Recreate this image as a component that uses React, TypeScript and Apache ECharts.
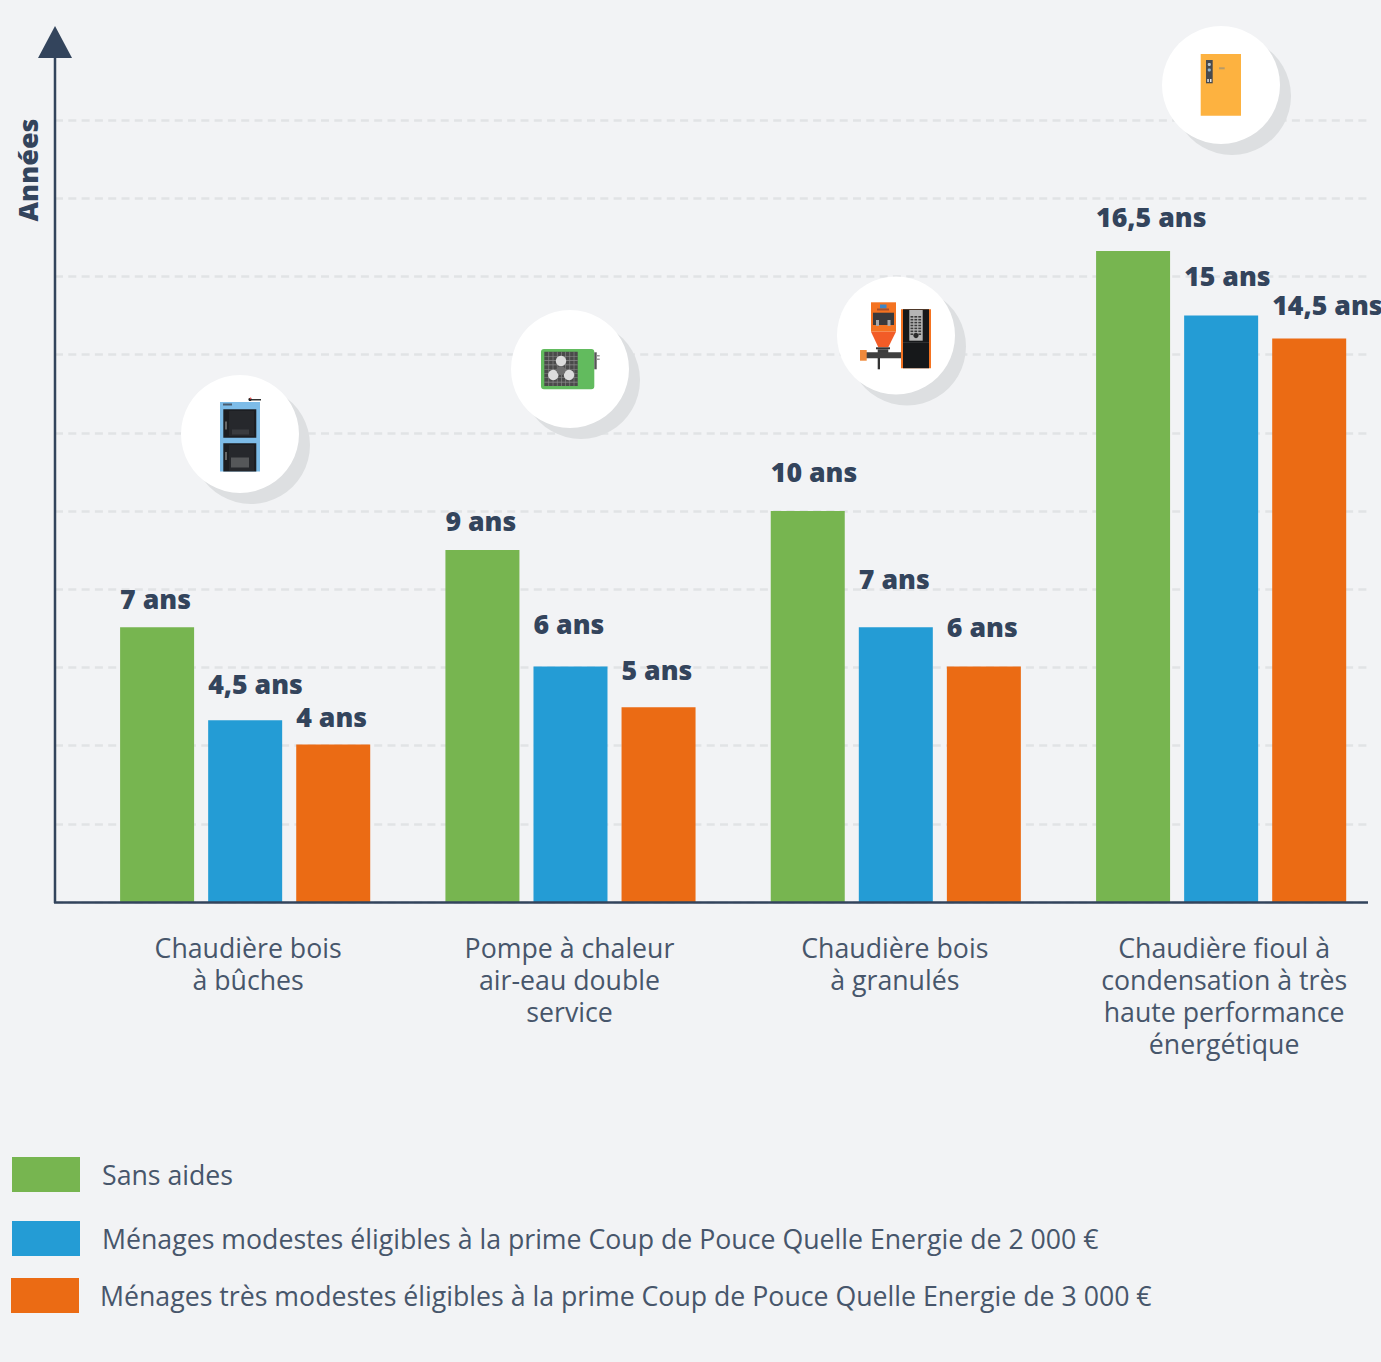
import React, { useEffect, useRef } from "react";
import * as echarts from "echarts";

const categories = [
  "Chaudière bois\nà bûches",
  "Pompe à chaleur\nair-eau double\nservice",
  "Chaudière bois\nà granulés",
  "Chaudière fioul à\ncondensation à très\nhaute performance\nénergétique",
];
const seriesNames = [
  "Sans aides",
  "Ménages modestes éligibles à la prime Coup de Pouce Quelle Energie de 2 000 €",
  "Ménages très modestes éligibles à la prime Coup de Pouce Quelle Energie de 3 000 €",
];
const sansAides = [7.03, 9, 10, 16.65];
const modestes = [4.65, 6.02, 7.03, 15];
const tresModestes = [4.03, 4.98, 6.02, 14.41];
const sansAidesLabels = ["7 ans", "9 ans", "10 ans", "16,5 ans"];
const modestesLabels = ["4,5 ans", "6 ans", "7 ans", "15 ans"];
const tresModestesLabels = ["4 ans", "5 ans", "6 ans", "14,5 ans"];
const sansAidesGaps = [29, 30, 40, 34];
const modestesGaps = [37, 43, 49, 40];
const tresModestesGaps = [28, 38, 40, 34];
const categoryNudges = [
  [0, 0, 0, 6],
  [0, 2, 0, 0],
  [0, 2, 0, 0],
  [0, 0, 0, 6],
];
const colors = ["#77b550", "#249cd5", "#eb6b14"];
const BG = "#f2f3f5";
const NAVY = "#33445c";
const TEXT = "#47566b";
const FONT = "'Open Sans', sans-serif";

function buildGraphics() {
  const out: any[] = [];
  let z = 10;
  const rect = (x: number, y: number, w: number, h: number, fill: string, r = 0) =>
    out.push({ type: "rect", z: z++, silent: true, shape: { x, y, width: w, height: h, r }, style: { fill } });
  const circle = (cx: number, cy: number, r: number, fill: string) =>
    out.push({ type: "circle", z: z++, silent: true, shape: { cx, cy, r }, style: { fill } });
  const poly = (points: number[][], fill: string) =>
    out.push({ type: "polygon", z: z++, silent: true, shape: { points }, style: { fill } });

  // Axis lines + arrow
  out.push({ type: "line", z: z++, silent: true, shape: { x1: 55, y1: 57, x2: 55, y2: 903 }, style: { stroke: NAVY, lineWidth: 2.5 } });
  out.push({ type: "line", z: z++, silent: true, shape: { x1: 54, y1: 902.5, x2: 1368, y2: 902.5 }, style: { stroke: NAVY, lineWidth: 2.5 } });
  poly([[55, 26], [72, 58], [38, 58]], NAVY);
  out.push({
    type: "text", z: z++, silent: true, x: 27, y: 170, rotation: Math.PI / 2,
    style: { text: "Années", fill: NAVY, font: `800 27px ${FONT}`, align: "center", verticalAlign: "middle" },
  });

  // Medallions
  for (const [cx, cy] of [[240, 434], [570, 369], [896, 335.5], [1221, 85]]) {
    circle(cx + 11, cy + 11, 59, "#dddfe1");
    circle(cx, cy, 59, "#ffffff");
  }

  // Log boiler
  rect(220, 402, 40, 69.5, "#7dbce8");
  rect(223.3, 409.3, 33, 28.4, "#1c1e22");
  rect(223.3, 443.3, 33, 28.2, "#1c1e22");
  rect(229, 411, 25, 25, "#26282c");
  rect(229, 445, 25, 26, "#26282c");
  rect(223, 403.5, 9, 2, "#4b5d70");
  rect(225, 421.5, 2, 8, "#666");
  rect(225, 452, 2, 8, "#666");
  rect(232, 429.5, 17, 5, "#3a3c40");
  rect(231, 457.5, 18, 10, "#555759");
  rect(249, 399, 12, 1.5, "#333");
  circle(250, 399.5, 1.6, "#222");
  circle(250.5, 398.3, 0.8, "#f05050");

  // Heat pump
  rect(541, 349, 53.3, 40.3, "#62bb5e", 3);
  rect(544.3, 351.7, 33.4, 34.3, "#4a4a4a");
  for (let i = 1; i < 8; i++) {
    rect(544.3 + i * 4.2, 351.7, 0.6, 34.3, "#8d8d8d");
    rect(544.3, 351.7 + i * 4.3, 33.4, 0.6, "#8d8d8d");
  }
  circle(561, 361, 5.2, "#dcdcdc");
  circle(553.3, 375, 5.2, "#dcdcdc");
  circle(569, 375, 5.2, "#dcdcdc");
  circle(561, 370.5, 4.5, "#6f6f6f");
  rect(594.3, 352.3, 2.4, 17, "#555");
  rect(596.7, 355, 3, 1.5, "#999");
  rect(596.7, 358.5, 3, 1.5, "#999");

  // Pellet boiler
  rect(871, 302.3, 25, 29.4, "#f47321");
  rect(880, 304.5, 6.5, 4, "#3f86c6");
  rect(877, 308.5, 12, 2, "#a8502a");
  rect(873, 312.7, 21, 12.3, "#3a3a3c");
  rect(876, 320, 3, 6, "#a9a9a9");
  rect(887.5, 320, 3, 6, "#a9a9a9");
  poly([[871, 331.7], [896, 331.7], [888.3, 347.3], [878.3, 347.3]], "#f25c27");
  rect(876, 347.3, 14, 2, "#333");
  rect(877.7, 349.3, 10.6, 8, "#3c3c3c");
  rect(866, 352.3, 35, 6, "#3f3f3f");
  rect(860, 350, 6.7, 10.7, "#f08a3c");
  rect(877.7, 358, 2.3, 11.3, "#333");
  rect(901, 309.3, 30, 59, "#f47321");
  rect(903, 309.3, 26, 59, "#16181a");
  rect(903, 342, 26, 0.7, "#3a3c3e");
  rect(909.3, 310, 13.4, 30.7, "#b5b5b5");
  for (let row = 0; row < 7; row++) {
    for (let col = 0; col < 3; col++) {
      rect(910.5 + col * 3.9, 316 + row * 2.9, 2.8, 1.6, "#3a3a3a");
    }
  }
  circle(916, 335.5, 2.6, "#2a2a2a");

  // Oil boiler
  rect(1200.7, 54, 40.3, 61.7, "#fdb240");
  rect(1206, 60, 6.7, 23.3, "#474a4f");
  circle(1209.3, 64.5, 1.6, "#b8c4cc");
  circle(1209.3, 70, 1.6, "#8fb4cc");
  rect(1207.3, 79, 1.5, 3, "#e6e6e6");
  rect(1210, 79, 1.5, 3, "#e6e6e6");
  rect(1219, 67.3, 5.7, 2, "#b89a66");
  return out;
}

const makeSeries = (i: number, values: number[], labels: string[], gaps: number[]) => ({
  type: "bar",
  name: seriesNames[i],
  xAxisIndex: 1,
  yAxisIndex: 1,
  barWidth: 74,
  barGap: "19%",
  itemStyle: { color: colors[i] },
  data: values.map((value, j) => ({
    value,
    label: {
      show: true,
      position: [0, -gaps[j] - 13],
      align: "left",
      verticalAlign: "top",
      formatter: labels[j],
      color: NAVY,
      fontFamily: FONT,
      fontWeight: 800,
      fontSize: 26.7,
      lineHeight: 26,
    },
  })),
});

const makeLegend = (i: number, left: number, top: number, textGap: number) => ({
  data: [seriesNames[i]],
  left,
  top,
  orient: "horizontal",
  icon: "rect",
  itemWidth: 68,
  itemHeight: 35,
  padding: 0,
  selectedMode: false,
  textStyle: { color: TEXT, fontFamily: FONT, fontSize: 26.7, padding: [4, 0, 0, textGap] },
});

export default function App() {
  const ref = useRef<HTMLDivElement>(null);
  useEffect(() => {
    document.body.style.margin = "0";
    document.body.style.background = BG;
    const chart = echarts.init(ref.current!, null, { renderer: "svg" });
    chart.setOption({
      animation: false,
      backgroundColor: BG,
      grid: [
        { left: 55, top: 120, width: 1315, height: 782, outerBoundsMode: "none" },
        { left: 82.5, top: 120, width: 1301.3, height: 782, outerBoundsMode: "none" },
      ],
      xAxis: [
        {
          type: "category",
          gridIndex: 0,
          data: categories.map(() => ""),
          axisLine: { show: false },
          axisTick: { show: false },
          axisLabel: { show: false },
        },
        {
          type: "category",
          gridIndex: 1,
          data: categories.map((value, i) => ({ value, textStyle: { padding: categoryNudges[i] } })),
          axisLine: { show: false },
          axisTick: { show: false },
          axisLabel: {
            interval: 0,
            margin: 29,
            verticalAlign: "top",
            color: TEXT,
            fontFamily: FONT,
            fontSize: 26.7,
            lineHeight: 32,
            align: "center",
          },
        },
      ],
      yAxis: [
        {
          type: "value",
          gridIndex: 0,
          min: 0,
          max: 20,
          interval: 2,
          axisLine: { show: false },
          axisTick: { show: false },
          axisLabel: { show: false },
          splitLine: { show: true, lineStyle: { color: "#e1e3e5", width: 2.5, type: [8, 5.3] } },
        },
        {
          type: "value",
          gridIndex: 1,
          min: 0,
          max: 20,
          interval: 2,
          show: false,
          splitLine: { show: false },
        },
      ],
      legend: [makeLegend(0, 12, 1157, 17), makeLegend(1, 12, 1221, 17), makeLegend(2, 11, 1278, 16)],
      series: [
        makeSeries(0, sansAides, sansAidesLabels, sansAidesGaps),
        makeSeries(1, modestes, modestesLabels, modestesGaps),
        makeSeries(2, tresModestes, tresModestesLabels, tresModestesGaps),
      ],
      graphic: { elements: buildGraphics() },
    });
    return () => chart.dispose();
  }, []);
  return <div ref={ref} style={{ position: "absolute", left: 0, top: 0, width: 1381, height: 1362 }} />;
}
